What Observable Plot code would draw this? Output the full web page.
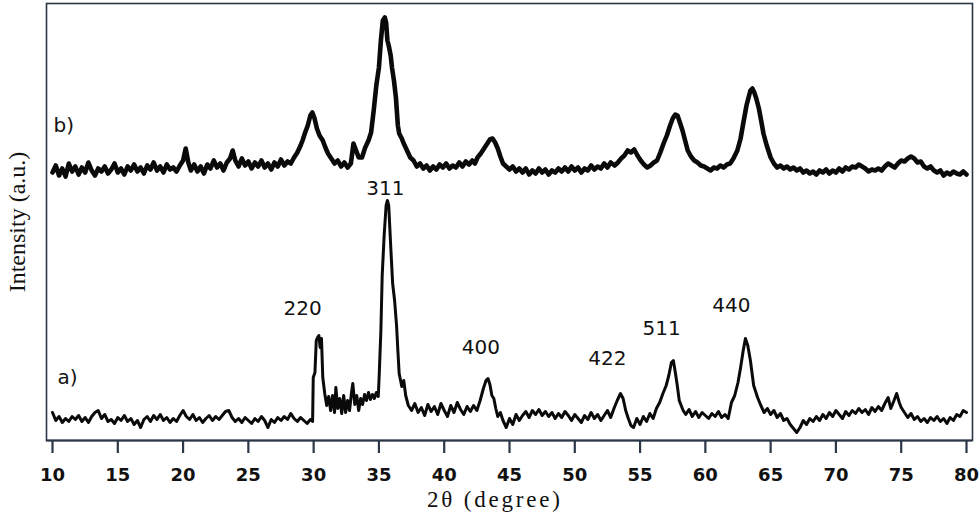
<!DOCTYPE html>
<html><head><meta charset="utf-8">
<script src="https://cdn.jsdelivr.net/npm/d3@7"></script>
<script src="https://cdn.jsdelivr.net/npm/@observablehq/plot@0.6"></script>
<style>
body{margin:0;background:#fff;}
#chart svg{display:block;}
</style></head><body><div id="chart"></div><script>
// [2θ (degree), intensity (a.u.)]
const patternA = [[10,28],[10.25,20],[10.5,24],[10.75,18],[11,22],[11.25,19],[11.5,24],[11.75,21],[12,25],[12.25,19],[12.5,23],[12.75,18],[13,24],[13.25,28],[13.5,30],[13.75,22],[14,26],[14.25,19],[14.5,21],[14.75,17],[15,23],[15.25,20],[15.5,25],[15.75,19],[16,22],[16.25,16],[16.5,20],[16.75,13],[17,21],[17.25,24],[17.5,19],[17.75,25],[18,21],[18.25,26],[18.5,20],[18.75,23],[19,18],[19.25,22],[19.5,19],[19.75,25],[20,30],[20.25,24],[20.5,21],[20.75,26],[21,20],[21.25,23],[21.5,18],[21.75,22],[22,25],[22.25,20],[22.5,24],[22.75,21],[23,25],[23.25,29],[23.5,30],[23.75,23],[24,19],[24.25,22],[24.5,18],[24.75,23],[25,20],[25.25,17],[25.5,22],[25.75,19],[26,24],[26.25,20],[26.5,13],[26.75,21],[27,18],[27.25,23],[27.5,20],[27.75,24],[28,21],[28.25,27],[28.5,22],[28.75,19],[29,23],[29.25,20],[29.5,17],[29.75,21],[29.92,19],[29.97,63],[30.1,68],[30.2,100],[30.3,103],[30.4,105],[30.5,93],[30.6,102],[30.7,63],[30.85,47],[31,35],[31.15,44],[31.3,30],[31.45,45],[31.6,28],[31.7,53],[31.85,32],[32,42],[32.15,27],[32.3,45],[32.45,28],[32.6,40],[32.75,30],[32.9,48],[33,57],[33.15,36],[33.3,45],[33.45,30],[33.6,42],[33.75,36],[33.9,46],[34.05,40],[34.2,48],[34.35,41],[34.5,46],[34.65,42],[34.8,48],[34.95,44],[35.02,65],[35.15,110],[35.25,165],[35.4,205],[35.55,235],[35.65,240],[35.75,235],[35.9,195],[36.05,157],[36.2,140],[36.35,115],[36.45,90],[36.55,67],[36.75,54],[36.9,60],[37.05,45],[37.25,35],[37.5,30],[37.75,37],[38,28],[38.25,33],[38.5,25],[38.75,36],[39,29],[39.25,34],[39.5,26],[39.75,37],[40,30],[40.25,24],[40.5,35],[40.75,28],[41,38],[41.25,31],[41.5,26],[41.75,34],[42,29],[42.25,35],[42.5,30],[42.75,40],[43,52],[43.2,60],[43.35,62],[43.5,56],[43.65,45],[43.8,42],[43.95,32],[44.1,24],[44.3,28],[44.5,20],[44.75,13],[45,22],[45.25,16],[45.5,26],[45.75,20],[46,25],[46.25,29],[46.5,23],[46.75,30],[47,26],[47.25,31],[47.5,25],[47.75,29],[48,24],[48.25,28],[48.5,22],[48.75,27],[49,23],[49.25,29],[49.5,25],[49.75,20],[50,26],[50.25,22],[50.5,18],[50.75,25],[51,21],[51.25,28],[51.5,22],[51.75,26],[52,20],[52.25,25],[52.5,30],[52.75,23],[53,32],[53.25,40],[53.5,47],[53.7,42],[53.9,30],[54.1,22],[54.3,15],[54.5,13],[54.75,22],[55,16],[55.25,24],[55.5,19],[55.75,27],[56,22],[56.25,32],[56.5,38],[56.75,47],[57,55],[57.2,65],[57.4,78],[57.55,80],[57.7,68],[57.85,55],[58,40],[58.15,35],[58.3,30],[58.5,26],[58.75,31],[59,24],[59.25,29],[59.5,23],[59.75,28],[60,25],[60.25,22],[60.5,27],[60.75,24],[61,29],[61.25,23],[61.5,26],[61.75,22],[62,38],[62.25,45],[62.5,58],[62.7,73],[62.9,90],[63.07,102],[63.25,95],[63.45,80],[63.7,55],[64,43],[64.25,35],[64.5,28],[64.75,32],[65,26],[65.25,30],[65.5,23],[65.75,27],[66,20],[66.25,22],[66.5,16],[66.75,12],[67,8],[67.25,13],[67.5,20],[67.75,16],[68,22],[68.25,19],[68.5,24],[68.75,20],[69,26],[69.25,22],[69.5,28],[69.75,24],[70,30],[70.25,26],[70.5,22],[70.75,29],[71,25],[71.25,30],[71.5,27],[71.75,32],[72,28],[72.25,31],[72.5,26],[72.75,33],[73,29],[73.25,34],[73.5,30],[73.75,37],[74,43],[74.2,32],[74.45,40],[74.65,47],[74.85,38],[75,33],[75.25,28],[75.5,23],[75.75,27],[76,21],[76.25,24],[76.5,19],[76.75,22],[77,18],[77.25,23],[77.5,20],[77.75,24],[78,19],[78.25,22],[78.5,17],[78.75,23],[79,20],[79.25,26],[79.5,24],[79.75,30],[80,28]];

const patternB = [[10,268],[10.25,275],[10.5,265],[10.75,272],[11,264],[11.25,277],[11.5,269],[11.75,274],[12,266],[12.25,273],[12.5,268],[12.75,278],[13,270],[13.25,265],[13.5,272],[13.75,269],[14,274],[14.25,267],[14.5,271],[14.75,277],[15,268],[15.25,272],[15.5,266],[15.75,274],[16,270],[16.25,276],[16.5,269],[16.75,273],[17,267],[17.25,275],[17.5,271],[17.75,278],[18,270],[18.25,274],[18.5,268],[18.75,276],[19,271],[19.25,273],[19.5,269],[19.75,275],[20,280],[20.2,292],[20.4,278],[20.6,270],[20.85,276],[21.1,269],[21.35,274],[21.6,267],[21.85,276],[22.1,272],[22.35,280],[22.6,273],[22.85,277],[23.1,270],[23.35,278],[23.6,282],[23.8,290],[24,280],[24.25,274],[24.5,282],[24.75,275],[25,279],[25.25,272],[25.5,278],[25.75,274],[26,280],[26.25,273],[26.5,277],[26.75,271],[27,278],[27.25,274],[27.5,281],[27.75,275],[28,279],[28.25,277],[28.5,283],[28.75,288],[29,295],[29.15,300],[29.35,308],[29.55,315],[29.75,325],[29.9,328],[30.05,323],[30.25,312],[30.45,305],[30.7,300],[30.9,293],[31.1,287],[31.35,282],[31.6,277],[31.85,280],[32.1,274],[32.35,278],[32.6,273],[32.85,277],[33.05,297],[33.25,290],[33.45,283],[33.7,283],[33.95,293],[34.2,300],[34.4,308],[34.6,330],[34.8,355],[35,373],[35.15,400],[35.3,420],[35.45,423],[35.55,418],[35.65,400],[35.75,395],[35.9,385],[36,373],[36.15,360],[36.3,343],[36.45,315],[36.55,307],[36.75,302],[36.9,297],[37.15,290],[37.4,283],[37.65,280],[37.9,274],[38.15,277],[38.4,272],[38.65,275],[38.9,270],[39.15,274],[39.4,271],[39.65,276],[39.9,273],[40.15,277],[40.4,272],[40.65,275],[40.9,273],[41.15,278],[41.4,274],[41.65,279],[41.9,276],[42.15,280],[42.35,277],[42.55,283],[42.8,287],[43.05,292],[43.3,297],[43.5,301],[43.7,302],[43.9,298],[44.1,292],[44.3,284],[44.5,277],[44.75,274],[45,271],[45.25,274],[45.5,269],[45.75,272],[46,268],[46.25,272],[46.5,266],[46.75,270],[47,267],[47.25,272],[47.5,268],[47.75,271],[48,266],[48.25,270],[48.5,268],[48.75,272],[49,269],[49.25,273],[49.5,269],[49.75,274],[50,270],[50.25,273],[50.5,268],[50.75,272],[51,270],[51.25,275],[51.5,271],[51.75,274],[52,272],[52.25,277],[52.5,273],[52.75,278],[53.05,275],[53.3,278],[53.55,282],[53.8,285],[54.05,290],[54.3,288],[54.55,291],[54.8,285],[55.05,280],[55.3,276],[55.55,273],[55.8,275],[56.05,278],[56.3,280],[56.55,288],[56.8,297],[57.05,305],[57.3,315],[57.5,322],[57.7,326],[57.87,325],[58.05,318],[58.25,310],[58.45,300],[58.65,290],[58.9,284],[59.15,280],[59.4,278],[59.65,275],[59.9,274],[60.15,272],[60.4,270],[60.65,273],[60.9,272],[61.15,275],[61.4,273],[61.65,276],[61.9,277],[62.15,282],[62.45,290],[62.7,302],[62.9,317],[63.15,335],[63.45,350],[63.6,352],[63.75,348],[63.9,342],[64.1,332],[64.3,318],[64.45,307],[64.7,295],[65,283],[65.25,277],[65.5,273],[65.75,275],[66,272],[66.25,274],[66.5,271],[66.75,273],[67,270],[67.25,272],[67.5,268],[67.75,270],[68,267],[68.25,269],[68.5,266],[68.75,270],[69,268],[69.25,271],[69.5,267],[69.75,270],[70,268],[70.25,272],[70.5,269],[70.75,273],[71,271],[71.25,274],[71.5,273],[71.75,276],[72,274],[72.25,272],[72.5,269],[72.75,271],[73,270],[73.25,272],[73.5,270],[73.75,274],[74,277],[74.25,275],[74.5,273],[74.75,277],[75,280],[75.25,279],[75.5,282],[75.75,284],[76,282],[76.25,278],[76.5,279],[76.75,274],[77,272],[77.25,274],[77.5,270],[77.75,268],[78,270],[78.25,265],[78.5,268],[78.75,266],[79,269],[79.25,267],[79.5,266],[79.75,269],[80,266]];

const xTicks = [10, 15, 20, 25, 30, 35, 40, 45, 50, 55, 60, 65, 70, 75, 80];

// peak (hkl) annotations: label, 2θ position, intensity position
const hklLabels = ["220", "311", "400", "422", "511", "440"];
const hklTheta = [29.15, 35.5, 42.8, 52.5, 56.65, 62.0];
const hklIntensity = [132, 252, 93, 82, 112, 135];

const seriesLabels = ["a)", "b)"];
const seriesTheta = [10.38, 10.08];
const seriesIntensity = [63, 315];

const xTitle = "2θ (degree)";
const yTitle = "Intensity (a.u.)";

const axisColor = "#2b3746";

const plot = Plot.plot({
  width: 980,
  height: 513,
  marginLeft: 46,
  marginRight: 8,
  marginTop: 3,
  marginBottom: 73,
  style: {background: "#fff", fontFamily: "DejaVu Sans", color: "#111", overflow: "visible"},
  x: {domain: [9.54, 80.46]},
  y: {domain: [0, 437], axis: null},
  marks: [
    Plot.frame({stroke: axisColor, strokeWidth: 1.6}),
    Plot.ruleY([0], {stroke: axisColor, strokeWidth: 2.2}),
    Plot.axisX({ticks: xTicks, tickFormat: d => String(d), tickSize: 13, tickPadding: 15,
      fontSize: 18, fontWeight: "bold", stroke: axisColor, strokeWidth: 2.2, label: null, fill: "#111"}),
    Plot.line(patternB, {x: d => d[0], y: d => d[1], stroke: "#0a0a0a", strokeWidth: 4.6, strokeLinejoin: "round"}),
    Plot.line(patternA, {x: d => d[0], y: d => d[1], stroke: "#0a0a0a", strokeWidth: 3, strokeLinejoin: "round"}),
    Plot.text(hklLabels, {x: hklTheta, y: hklIntensity, text: d => d, fontSize: 20, fill: "#111", textAnchor: "middle"}),
    Plot.text(seriesLabels, {x: seriesTheta, y: seriesIntensity, text: d => d, fontSize: 20, fill: "#111", textAnchor: "start"}),
    Plot.text([xTitle], {frameAnchor: "bottom", dx: -16, dy: 59, lineAnchor: "middle", textAnchor: "middle", text: d => d, fontSize: 23, fontFamily: "Liberation Serif", fill: "#111"}),
    Plot.text([yTitle], {frameAnchor: "left", dx: -29, rotate: -90, textAnchor: "middle", lineAnchor: "middle", text: d => d, fontSize: 24, fontFamily: "Liberation Serif", fill: "#111"})
  ]
});
// widen the x title to the reference's letter spacing
d3.select(plot).selectAll("text").filter(function() { return this.textContent === xTitle; })
  .attr("textLength", 133).attr("lengthAdjust", "spacing");
document.getElementById("chart").appendChild(plot);
</script></body></html>
